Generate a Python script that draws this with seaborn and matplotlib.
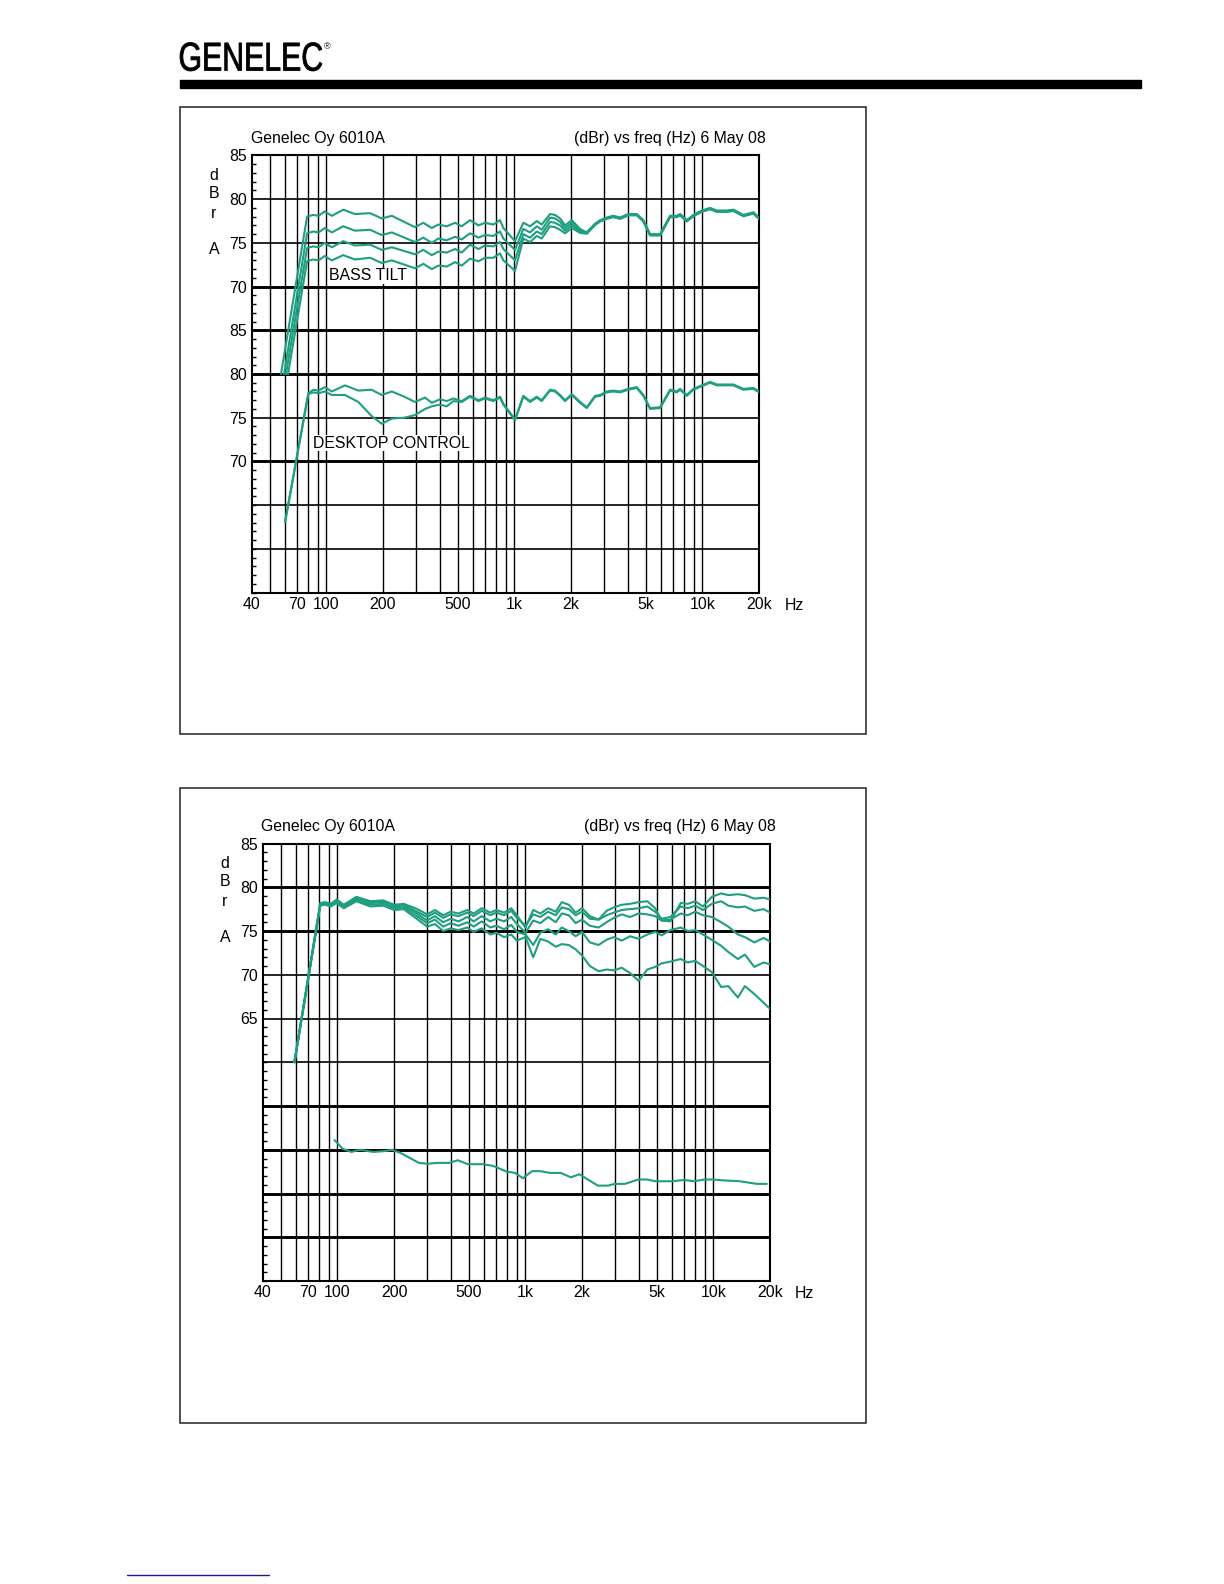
import pandas as pd
import seaborn as sns
import matplotlib.pyplot as plt
from matplotlib.patches import Rectangle, PathPatch
from matplotlib.textpath import TextPath
from matplotlib.font_manager import FontProperties
from matplotlib.transforms import Affine2D
from matplotlib.ticker import MultipleLocator, NullLocator

# --- DATA (dBr vs Hz) ---
XTICK_HZ = [40, 70, 100, 200, 500, 1000, 2000, 5000, 10000, 20000]
XTICK_LABELS = ["40", "70", "100", "200", "500", "1k", "2k", "5k", "10k", "20k"]
GRID_HZ = [50, 60, 70, 80, 90, 100, 200, 300, 400, 500, 600, 700, 800, 900,
           1000, 2000, 3000, 4000, 5000, 6000, 7000, 8000, 9000, 10000]

TOP_YTICKS = [85, 80, 75, 70, 65, 60, 55, 50]
TOP_YLABELS = ["85", "80", "75", "70", "85", "80", "75", "70"]
BOT_YTICKS = [85, 80, 75, 70, 65]
BOT_YLABELS = ["85", "80", "75", "70", "65"]

# bass tilt: 0, -2, -4, -6 dB settings
BT_START_HZ = [57.4, 59.6, 61.0, 62.6]
BT_START_DB = [60.0, 60.0, 60.0, 60.0]
BT_HZ = [79, 85, 91, 98, 107, 123, 142, 171, 197, 223, 296, 328, 364, 394, 437,
         484, 525, 581, 644, 698, 773, 839, 874, 1008, 1116, 1212, 1316, 1398,
         1548, 1646, 1750, 1860, 2020, 2236, 2427, 2687, 2857, 3100, 3361, 3649,
         4040, 4477, 4853, 5269, 5957, 6733, 7309, 7609, 8260, 8955, 9925, 10990,
         11930, 13490, 14620, 16520, 18680, 20000]
BT_0 = [78.0, 78.2, 78.1, 78.6, 78.1, 78.8, 78.3, 78.4, 77.8, 78.1, 76.8, 77.3,
        76.7, 77.1, 76.9, 77.3, 76.9, 77.6, 77.0, 77.3, 77.1, 77.6, 76.7, 75.2,
        77.3, 76.9, 77.5, 77.1, 78.3, 78.2, 77.8, 77.0, 77.6, 76.6, 76.2, 77.2,
        77.6, 77.9, 78.1, 77.9, 78.3, 78.3, 77.6, 76.0, 76.0, 78.1, 78.1, 78.3,
        77.6, 78.2, 78.7, 79.0, 78.7, 78.7, 78.8, 78.2, 78.5, 77.9]
BT_2 = [76.1, 76.3, 76.2, 76.7, 76.2, 76.9, 76.4, 76.5, 75.9, 76.2, 75.1, 75.6,
        75.0, 75.5, 75.3, 75.7, 75.4, 76.1, 75.6, 75.9, 75.8, 76.3, 75.5, 74.2,
        76.6, 76.2, 76.9, 76.5, 77.9, 77.8, 77.4, 76.7, 77.3, 76.45, 76.15,
        77.15, 77.55, 77.85, 78.05, 77.85, 78.25, 78.25, 77.55, 75.95, 75.95,
        78.05, 78.05, 78.25, 77.55, 78.15, 78.65, 78.95, 78.65, 78.65, 78.75,
        78.15, 78.45, 77.85]
BT_4 = [74.4, 74.6, 74.5, 75.0, 74.5, 75.2, 74.7, 74.8, 74.2, 74.5, 73.7, 74.2,
        73.6, 74.0, 73.9, 74.3, 73.9, 74.8, 74.3, 74.7, 74.6, 75.1, 74.3, 73.0,
        76.0, 75.6, 76.3, 76.0, 77.4, 77.3, 77.0, 76.4, 77.0, 76.3, 76.1,
        77.1, 77.5, 77.8, 78.0, 77.8, 78.2, 78.2, 77.5, 75.9, 75.9, 78.0, 78.0,
        78.2, 77.5, 78.1, 78.6, 78.9, 78.6, 78.6, 78.7, 78.1, 78.4, 77.8]
BT_6 = [72.9, 73.1, 73.0, 73.5, 73.0, 73.6, 73.1, 73.3, 72.7, 73.0, 72.1, 72.6,
        72.0, 72.4, 72.3, 72.8, 72.4, 73.2, 72.9, 73.3, 73.3, 73.8, 73.0, 71.8,
        75.5, 75.1, 75.8, 75.5, 76.9, 76.8, 76.5, 76.1, 76.7, 76.15, 76.05,
        77.05, 77.45, 77.75, 77.95, 77.75, 78.15, 78.15, 77.45, 75.85, 75.85,
        77.95, 77.95, 78.15, 77.45, 78.05, 78.55, 78.85, 78.55, 78.55, 78.65,
        78.05, 78.35, 77.75]

# desktop control: off / on (plotted 20 dB down)
DC_HZ = [60.4, 80.2, 85.3, 90.6, 98.4, 106.8, 125.7, 148, 174, 197, 223, 260,
         296, 335, 364, 402, 437, 474, 525, 581, 644, 698, 773, 839, 874, 1008,
         1116, 1212, 1316, 1398, 1548, 1646, 1750, 1860, 2020, 2236, 2427, 2687,
         2857, 3100, 3361, 3649, 4040, 4477, 4853, 5269, 5957, 6733, 7309, 7609,
         8260, 8955, 9925, 10990, 11930, 13490, 14620, 16520, 18680, 20000]
DC_OFF = [63.1, 77.8, 78.2, 78.1, 78.5, 78.0, 78.7, 78.1, 78.2, 77.6, 78.0, 77.4,
          76.8, 77.3, 76.7, 77.1, 76.9, 77.2, 76.9, 77.5, 77.0, 77.3, 77.0, 77.4,
          76.6, 74.8, 77.5, 76.9, 77.4, 77.0, 78.2, 78.1, 77.6, 77.0, 77.7, 76.8,
          76.2, 77.5, 77.6, 78.0, 78.1, 78.0, 78.3, 78.5, 77.6, 76.1, 76.2, 78.2,
          78.0, 78.3, 77.6, 78.3, 78.7, 79.1, 78.8, 78.8, 78.8, 78.3, 78.4, 78.0]
DC_ON = [63.1, 77.7, 77.9, 77.8, 78.0, 77.6, 77.6, 76.8, 75.2, 74.3, 74.9, 75.0,
         75.3, 76.0, 76.3, 76.5, 76.3, 76.9, 76.8, 77.4, 76.9, 77.2, 76.9, 77.3,
         76.5, 74.7, 77.4, 76.8, 77.3, 76.9, 78.1, 78.0, 77.5, 76.9, 77.6, 76.7,
         76.1, 77.4, 77.5, 77.9, 78.0, 77.9, 78.2, 78.4, 77.5, 76.0, 76.1, 78.1,
         77.9, 78.2, 77.5, 78.2, 78.6, 79.0, 78.7, 78.7, 78.7, 78.2, 78.3, 77.9]
DC_OFFSET = 20

# lower chart: off-axis curves 0, 15, 30, 45, 60 deg
OA_HZ = [59, 81, 86, 92, 99, 108, 126, 150, 175, 200, 225, 260, 300, 330, 365,
         400, 440, 490, 530, 585, 650, 700, 770, 840, 900, 1000, 1100, 1200, 1320,
         1450, 1560, 1700, 1850, 2000, 2200, 2450, 2700, 2950, 3250, 3600, 4000,
         4450, 4900, 5300, 5900, 6700, 7300, 8000, 8800, 9800, 11000, 12000,
         13500, 14700, 16500, 18500, 20000]
OA_0 = [60.0, 78.2, 78.3, 78.1, 78.6, 78.0, 78.9, 78.4, 78.5, 78.0, 78.1, 77.6,
        76.9, 77.4, 76.8, 77.2, 77.0, 77.4, 77.0, 77.6, 77.1, 77.4, 77.1, 77.6,
        76.8, 75.4, 77.4, 77.0, 77.6, 77.2, 78.3, 78.0, 77.1, 77.6, 76.7, 76.3,
        77.3, 77.7, 78.0, 78.1, 78.3, 78.4, 77.6, 76.2, 76.1, 78.2, 78.1, 78.4,
        77.8, 78.9, 79.3, 79.1, 79.2, 79.1, 78.7, 78.8, 78.6]
OA_15 = [60.0, 78.1, 78.2, 78.0, 78.5, 77.9, 78.8, 78.3, 78.4, 77.9, 78.0,
         77.3, 76.6, 77.1, 76.5, 76.9, 76.7, 77.1, 76.7, 77.3, 76.8, 77.1, 76.8,
         77.3, 76.5, 75.6, 76.9, 76.6, 77.2, 76.8, 77.7, 77.5, 76.8, 77.2,
         76.4, 76.3, 76.8, 77.1, 77.4, 77.5, 77.6, 77.8,
         77.2, 76.4, 76.6, 77.8, 77.6, 77.9, 77.4, 78.1, 78.4, 77.9, 77.7, 77.8,
         77.3, 77.5, 77.1]
OA_30 = [60.0, 78.0, 78.1, 77.9, 78.4, 77.8, 78.7, 78.2, 78.3, 77.8, 77.9,
         77.1, 76.2, 76.7, 76.0, 76.4, 76.1, 76.6, 76.1, 76.7, 76.1, 76.4, 76.1,
         76.6, 75.8, 74.8, 76.2, 75.9, 76.6, 76.0, 77.0, 76.8, 75.9, 76.3,
         75.6, 75.4, 76.0, 76.5, 76.9, 76.6, 77.0, 76.9,
         76.7, 76.2, 76.3, 77.0, 76.8, 77.2, 76.8, 76.6, 76.0, 75.5, 74.6, 74.3,
         73.7, 74.2, 73.8]
OA_45 = [60.0, 78.0, 78.1, 77.9, 78.3, 77.7, 78.6, 78.0, 78.1, 77.6, 77.7,
         76.8, 75.9, 76.3, 75.5, 75.9, 75.6, 76.0, 75.5, 76.1, 75.4, 75.6, 75.2,
         75.7, 74.9, 74.6, 73.4, 74.8, 75.2, 74.6, 75.4, 75.0, 74.4, 74.9,
         73.7, 73.4, 74.0, 74.3, 73.9, 74.4, 74.1, 74.6,
         74.9, 74.5, 75.1, 75.4, 75.0, 75.1, 74.6, 74.0, 73.3, 72.6, 71.8, 72.3,
         70.9, 71.4, 71.2]
OA_60 = [60.0, 77.9, 78.0, 77.8, 78.2, 77.6, 78.4, 77.8, 77.9, 77.4, 77.5,
         76.5, 75.5, 75.8, 75.0, 75.3, 75.1, 75.4, 74.9, 75.3, 74.6, 74.8, 74.3,
         74.6, 73.9, 74.3, 72.0, 74.1, 73.8, 73.2, 73.5, 73.4, 72.9, 72.2,
         71.0, 70.4, 70.6, 70.5, 70.8, 70.2, 69.3, 70.6,
         70.9, 71.3, 71.5, 71.8, 71.4, 71.6, 71.0, 70.3, 68.6, 68.7, 67.4, 68.7,
         67.8, 66.8, 66.1]

# lower trace of the second chart
PWR_HZ = [96.4, 106.8, 118.6, 131.4, 155, 179, 194.7, 215.8, 271, 300.6, 340.3,
          393.3, 436.4, 493.8, 594.8, 673, 795, 881, 969.6, 1084, 1201, 1361,
          1540, 1746, 1935, 2145, 2429, 2749, 2988, 3382, 3990, 4428, 4909, 6035,
          6974, 7904, 8943, 9911, 11230, 13810, 16990, 19230]
PWR_DB = [51.1, 50.1, 49.75, 50.0, 49.75, 49.85, 50.0, 49.65, 48.5, 48.4, 48.5,
          48.5, 48.8, 48.35, 48.35, 48.15, 47.5, 47.35, 46.75, 47.55, 47.55, 47.35,
          47.35, 46.85, 47.2, 46.6, 45.9, 45.9, 46.1, 46.1, 46.6, 46.6, 46.4, 46.4,
          46.55, 46.4, 46.6, 46.6, 46.5, 46.4, 46.1, 46.1]

GREEN = "#1f9e80"
W, H = 1224, 1584

sns.set_style("white")
plt.rcParams["font.family"] = ["Liberation Sans", "DejaVu Sans"]
plt.rcParams["font.size"] = 11.4
plt.rcParams["text.color"] = "black"
plt.rcParams["xtick.color"] = "black"
plt.rcParams["ytick.color"] = "black"
plt.rcParams["xtick.labelcolor"] = "black"
plt.rcParams["ytick.labelcolor"] = "black"


def px_axes(fig, left, top, right, bottom):
    return fig.add_axes([left / W, 1 - bottom / H, (right - left) / W, (bottom - top) / H])


def style_chart(ax, yticks, ylabels, thick):
    ax.set_xscale("log")
    ax.set_xlim(40, 20000)
    ax.set_ylim(35, 85)
    ax.grid(False)
    for f in GRID_HZ:
        ax.axvline(f, color="black", lw=1.0, zorder=1)
    for y in range(40, 85, 5):
        ax.axhline(y, color="black", lw=2.1 if y in thick else 1.2, zorder=1)
    ax.set_xticks(XTICK_HZ, XTICK_LABELS)
    ax.xaxis.set_minor_locator(NullLocator())
    ax.set_yticks(yticks, ylabels)
    ax.yaxis.set_minor_locator(MultipleLocator(1))
    ax.tick_params(axis="x", which="major", length=0, pad=3, labelsize=11.4,
                   labelcolor="black")
    ax.tick_params(axis="y", which="major", length=0, pad=3.6, labelsize=11.4,
                   labelcolor="black")
    ax.tick_params(axis="y", which="minor", direction="in", length=3, width=1.0,
                   left=True, right=False, color="black")
    for s in ax.spines.values():
        s.set_linewidth(1.5)
        s.set_color("black")
    ax.set_xlabel("")
    ax.set_ylabel("")


def main():
    fig = plt.figure(figsize=(W / 100, H / 100), dpi=100)

    # page decorations, in pixel coordinates
    deco = fig.add_axes([0, 0, 1, 1])
    deco.set_xlim(0, W)
    deco.set_ylim(H, 0)
    deco.axis("off")

    tp = TextPath((0, 0), "GENELEC", size=100, prop=FontProperties(family="Liberation Sans"))
    bb = tp.get_extents()
    tr = Affine2D().translate(-bb.x0, -bb.y0).scale(142 / bb.width, -28.5 / bb.height).translate(180, 71)
    deco.add_patch(PathPatch(tr.transform_path(tp), facecolor="black", edgecolor="black", lw=0.6))
    deco.text(327, 47, "\u00ae", fontsize=6.5, ha="center", va="center")
    deco.add_patch(Rectangle((180, 80), 961, 8, color="black"))

    deco.add_patch(Rectangle((180, 107), 686, 627, fill=False, lw=1.1, edgecolor="#222222"))
    deco.add_patch(Rectangle((180, 788), 686, 635, fill=False, lw=1.1, edgecolor="#222222"))
    deco.plot([127, 269], [1575, 1575], color="#1c1c8f", lw=1.0)

    # ---- top chart: bass tilt + desktop control ----
    ax1 = px_axes(fig, 251.5, 155.5, 759, 592.5)
    rows = []
    for name, f0, v0, vals in zip(["bt0", "bt2", "bt4", "bt6"], BT_START_HZ, BT_START_DB,
                                  [BT_0, BT_2, BT_4, BT_6]):
        for f, v in zip([f0] + BT_HZ, [v0] + vals):
            rows.append((name, f, v))
    for name, vals in [("dc_off", DC_OFF), ("dc_on", DC_ON)]:
        for f, v in zip(DC_HZ, vals):
            rows.append((name, f, v - DC_OFFSET))
    top_df = pd.DataFrame(rows, columns=["curve", "freq", "level"])
    sns.lineplot(data=top_df, x="freq", y="level", units="curve", estimator=None,
                 sort=False, color=GREEN, lw=1.5, legend=False, ax=ax1, zorder=3)
    style_chart(ax1, TOP_YTICKS, TOP_YLABELS, thick={70, 65, 60, 50})
    ax1.text(103.3, 71.25, "BASS TILT", ha="left", va="center", zorder=5,
             bbox=dict(facecolor="white", edgecolor="none", pad=0.5))
    ax1.text(84.6, 52.1, "DESKTOP CONTROL", ha="left", va="center", zorder=5,
             bbox=dict(facecolor="white", edgecolor="none", pad=0.5))

    # ---- bottom chart ----
    ax2 = px_axes(fig, 262.7, 843.5, 770, 1281)
    rows = []
    for name, vals in [("oa0", OA_0), ("oa15", OA_15), ("oa30", OA_30),
                       ("oa45", OA_45), ("oa60", OA_60)]:
        for f, v in zip(OA_HZ, vals):
            rows.append((name, f, v))
    for f, v in zip(PWR_HZ, PWR_DB):
        rows.append(("pwr", f, v))
    bot_df = pd.DataFrame(rows, columns=["curve", "freq", "level"])
    sns.lineplot(data=bot_df, x="freq", y="level", units="curve", estimator=None,
                 sort=False, color=GREEN, lw=1.5, legend=False, ax=ax2, zorder=3)
    style_chart(ax2, BOT_YTICKS, BOT_YLABELS, thick={80, 75, 55, 50, 45, 40})

    # chart texts
    for (x0, x1, yt, xh, yh, ap, letters) in [
        (251, 766, 138.5, 794, 605, (757, 172), [(214, 175), (214, 194), (214, 213), (214, 250)]),
        (261, 776, 827, 804, 1294, (767.5, 860), [(225, 863), (225, 882), (225, 901), (225, 938)]),
    ]:
        deco.text(x0, yt, "Genelec Oy 6010A", ha="left", va="center")
        deco.text(x1, yt, "(dBr) vs freq (Hz) 6 May 08", ha="right", va="center")
        deco.text(xh, yh, "Hz", ha="center", va="center")
        deco.text(ap[0], ap[1], "Ap", ha="right", va="center", fontsize=13,
                  fontweight="bold", fontstyle="italic")
        for (lx, ly), ch in zip(letters, ["d", "B", "r", "A"]):
            deco.text(lx, ly, ch, ha="center", va="center")

    fig.savefig("out.png", dpi=100)


if __name__ == "__main__":
    main()
